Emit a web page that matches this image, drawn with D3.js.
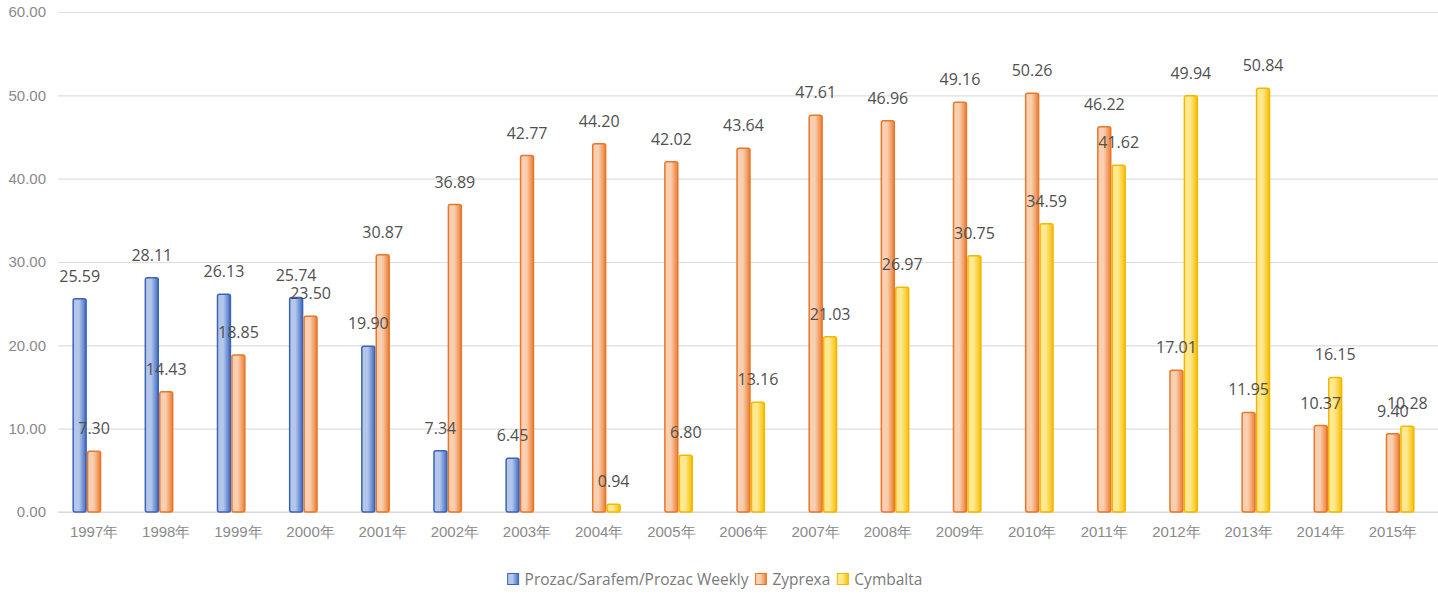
<!DOCTYPE html>
<html>
<head>
<meta charset="utf-8">
<script src="https://cdn.jsdelivr.net/npm/d3@7"></script>
<style>
  body { margin: 0; background: #ffffff; }
  svg { display: block; font-family: "Open Sans", "Noto Sans CJK SC", sans-serif; }
</style>
</head>
<body>
<div id="container"></div>
<script>
/* DATA */
const years = ["1997年", "1998年", "1999年", "2000年", "2001年", "2002年", "2003年", "2004年", "2005年", "2006年",
  "2007年", "2008年", "2009年", "2010年", "2011年", "2012年", "2013年", "2014年", "2015年"]
const seriesNames = ["Prozac/Sarafem/Prozac Weekly", "Zyprexa", "Cymbalta"]
const prozac = [25.59, 28.11, 26.13, 25.74, 19.90, 7.34, 6.45, null, null, null,
  null, null, null, null, null, null, null, null, null]
const zyprexa = [7.30, 14.43, 18.85, 23.50, 30.87, 36.89, 42.77, 44.20, 42.02, 43.64,
  47.61, 46.96, 49.16, 50.26, 46.22, 17.01, 11.95, 10.37, 9.40]
const cymbalta = [null, null, null, null, null, null, null, 0.94, 6.80, 13.16,
  21.03, 26.97, 30.75, 34.59, 41.62, 49.94, 50.84, 16.15, 10.28]
const yTicks = [0, 10, 20, 30, 40, 50, 60]

/* CONSTANTS AND GLOBALS */
const width = 1438,
  height = 600,
  margin = { top: 12, right: 9, bottom: 88, left: 58 }

const colors = {
  "Prozac/Sarafem/Prozac Weekly": { base: "#3f6bc4", light: "#b4c6ea", stroke: "#3a64b6" },
  "Zyprexa": { base: "#ed7d31", light: "#f9cfb1", stroke: "#e8772a" },
  "Cymbalta": { base: "#f7be00", light: "#ffe88f", stroke: "#f0b800" }
}

const allSeries = [prozac, zyprexa, cymbalta]
const rows = []
years.forEach((y, i) => {
  seriesNames.forEach((s, j) => {
    if (allSeries[j][i] != null) rows.push({ year: y, series: s, value: allSeries[j][i] })
  })
})

const svg = d3.select("#container")
  .append("svg")
  .attr("width", width)
  .attr("height", height)

/* GRADIENTS */
const defs = svg.append("defs")
seriesNames.forEach((s, j) => {
  const g = defs.append("linearGradient")
    .attr("id", "grad" + j)
    .attr("x1", "0%").attr("x2", "100%")
    .attr("y1", "0%").attr("y2", "0%")
  g.append("stop").attr("offset", "0%").attr("stop-color", colors[s].light)
  g.append("stop").attr("offset", "45%").attr("stop-color", colors[s].light)
  g.append("stop").attr("offset", "100%").attr("stop-color", colors[s].base)
})

/* SCALES */
const x0 = d3.scaleBand()
  .domain(years)
  .range([margin.left, width - margin.right])
  .paddingInner(0.4)
  .paddingOuter(0.2)

const x1 = d3.scaleBand()
  .domain(seriesNames)
  .range([0, x0.bandwidth()])

const yScale = d3.scaleLinear()
  .domain([0, 60])
  .range([height - margin.bottom, margin.top])

/* AXES */
const yAxis = svg.append("g")
  .attr("class", "y-axis")
  .attr("transform", `translate(${margin.left},0)`)
  .call(d3.axisLeft(yScale)
    .tickValues(yTicks)
    .tickFormat(d3.format(".2f"))
    .tickSize(-(width - margin.left - margin.right + 9))
    .tickPadding(12))
yAxis.select(".domain").remove()
yAxis.selectAll(".tick line").attr("stroke", "#dedede").attr("stroke-width", 1.2)
yAxis.selectAll(".tick text")
  .attr("fill", "#8a8a8a")
  .style("font-size", "15px")

const xAxis = svg.append("g")
  .attr("class", "x-axis")
  .attr("transform", `translate(0,${yScale(0)})`)
  .call(d3.axisBottom(x0).tickSize(0).tickPadding(14))
xAxis.select(".domain")
  .attr("stroke", "#d6d6d6")
  .attr("stroke-width", 1.2)
  .attr("d", `M${margin.left},0H${width}`)
xAxis.selectAll(".tick text")
  .attr("fill", "#8a8a8a")
  .style("font-size", "15px")

/* BARS */
svg.selectAll(".bar")
  .data(rows)
  .join("rect")
  .attr("class", "bar")
  .attr("x", d => x0(d.year) + x1(d.series) + 0.75)
  .attr("y", d => yScale(d.value))
  .attr("width", x1.bandwidth() - 1.5)
  .attr("height", d => yScale(0) - yScale(d.value))
  .attr("rx", 2)
  .attr("fill", d => `url(#grad${seriesNames.indexOf(d.series)})`)
  .attr("stroke", d => colors[d.series].stroke)
  .attr("stroke-width", 1.5)

/* DATA LABELS */
svg.selectAll(".label")
  .data(rows)
  .join("text")
  .attr("class", "label")
  .attr("x", d => x0(d.year) + x1(d.series) + x1.bandwidth() / 2)
  .attr("y", d => yScale(d.value) - 17)
  .attr("text-anchor", "middle")
  .attr("fill", "#505050")
  .style("font-size", "16px")
  .text(d => d3.format(".2f")(d.value))

/* LEGEND */
const legend = svg.append("g").attr("class", "legend")
let lx = 0
seriesNames.forEach((s, j) => {
  const item = legend.append("g").attr("transform", `translate(${lx},0)`)
  item.append("rect")
    .attr("x", 0).attr("y", -5.5)
    .attr("width", 11).attr("height", 11)
    .attr("fill", `url(#grad${j})`)
    .attr("stroke", colors[s].stroke)
  const t = item.append("text")
    .attr("x", 17).attr("y", 5.5)
    .attr("fill", "#7a7a7a")
    .style("font-size", "15.5px")
    .text(s)
  lx += 17 + t.node().getComputedTextLength() + 7
})
const legendW = lx - 7
legend.attr("transform", `translate(${(width - legendW) / 2 - 4},${579})`)
</script>
</body>
</html>
